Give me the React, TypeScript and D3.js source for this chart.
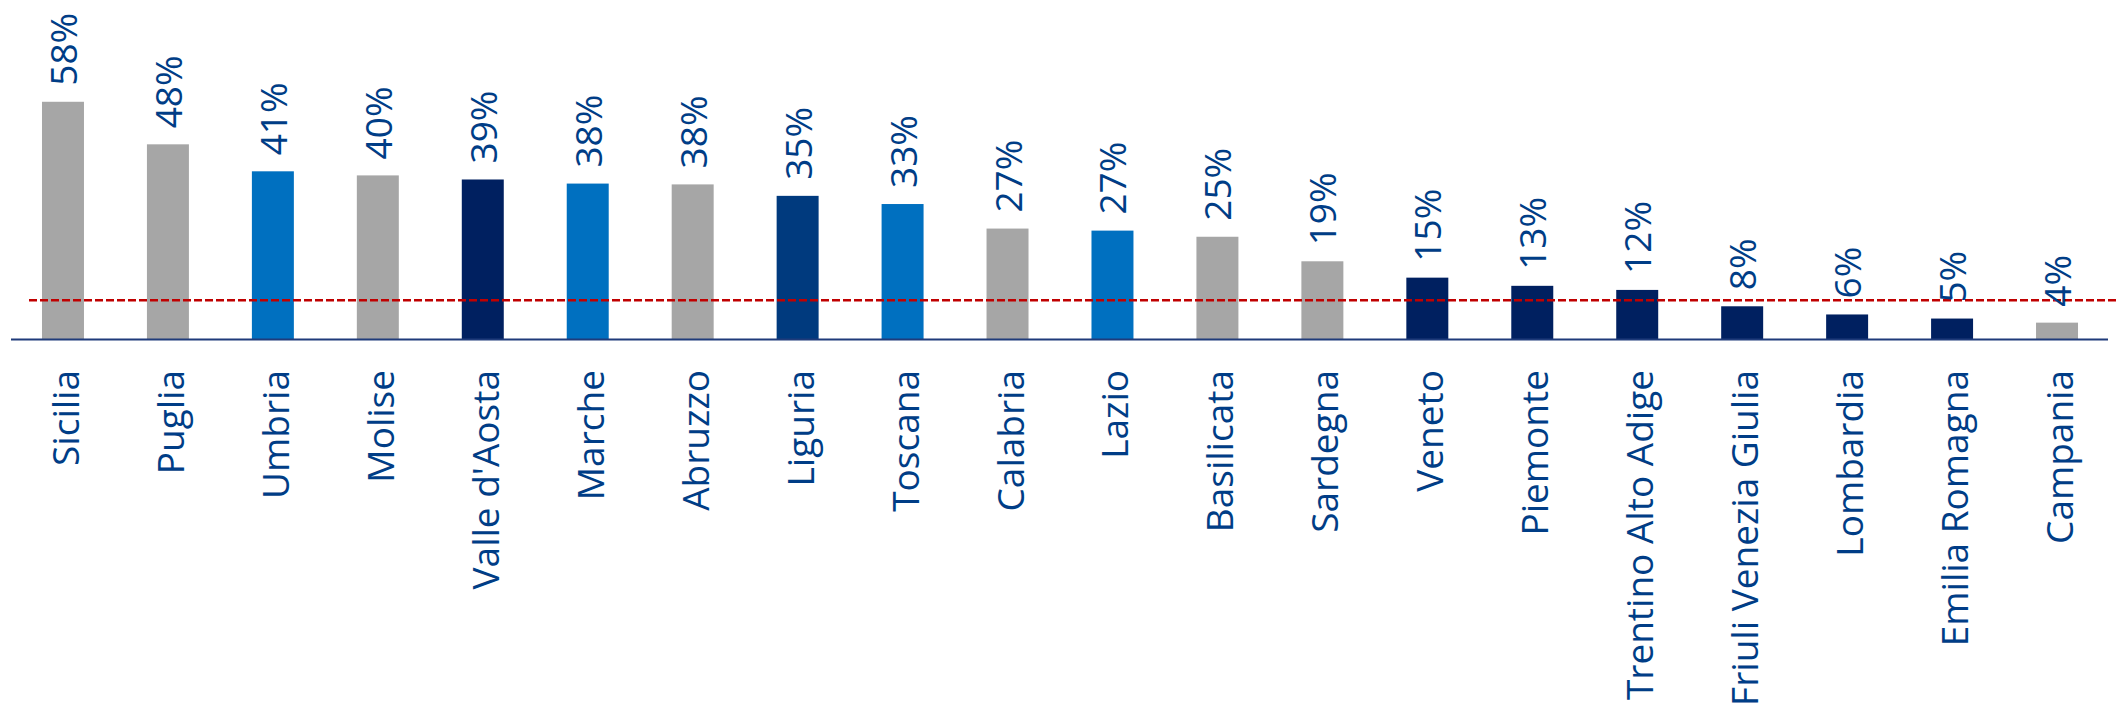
import React from "react";
import * as d3 from "d3";

const categories = [
  "Sicilia", "Puglia", "Umbria", "Molise", "Valle d'Aosta", "Marche", "Abruzzo",
  "Liguria", "Toscana", "Calabria", "Lazio", "Basilicata", "Sardegna", "Veneto",
  "Piemonte", "Trentino Alto Adige", "Friuli Venezia Giulia", "Lombardia",
  "Emilia Romagna", "Campania",
];
const values = [58, 47.6, 41, 40, 39, 38, 37.8, 35, 33, 27, 26.5, 25, 19, 15, 13, 12, 8, 6, 5, 4];
const groups = [
  "grey", "grey", "blue", "grey", "navy", "blue", "grey", "dark", "blue", "grey",
  "blue", "grey", "grey", "navy", "navy", "navy", "navy", "navy", "navy", "grey",
];
const referenceValue = 9.5;

const colorMap: Record<string, string> = {
  grey: "#A6A6A6",
  blue: "#0070C0",
  navy: "#002060",
  dark: "#003A7E",
};

const W = 2118;
const H = 714;
const TEXT = "#003D86";
const FONT = "'Open Sans', sans-serif";

export default function App() {
  const x = d3.scaleBand<string>()
    .domain(categories)
    .range([10.5, 2109.5])
    .paddingInner(0.6)
    .paddingOuter(0.3);
  const y = d3.scaleLinear().domain([0, 60]).range([339, 339 - 245.4]);
  const bw = x.bandwidth();

  return (
    <div style={{ position: "absolute", left: 0, top: 0 }}>
      <svg width={W} height={H} style={{ display: "block" }}>
        <rect width={W} height={H} fill="#fff" />
        {categories.map((c, i) => (
          <rect
            key={c}
            x={x(c)!}
            y={y(values[i])}
            width={bw}
            height={y(0) - y(values[i])}
            fill={colorMap[groups[i]]}
          />
        ))}
        <line
          x1={29}
          x2={W}
          y1={y(referenceValue)}
          y2={y(referenceValue)}
          stroke="#C00000"
          strokeWidth={2.5}
          strokeDasharray="8 3"
        />
        <line x1={11} x2={2108} y1={y(0) + 0.5} y2={y(0) + 0.5} stroke="#1F3B7A" strokeWidth={2} />
        {categories.map((c, i) => {
          const cx = x(c)! + bw / 2;
          const ty = y(values[i]) - 16;
          return (
            <text
              key={"v" + c}
              transform={`translate(${cx + 14},${ty}) rotate(-90)`}
              fill={TEXT}
              fontFamily={FONT}
              fontSize={37}
              textAnchor="start"
            >
              {d3.format(".0f")(values[i]) + "%"}
            </text>
          );
        })}
        {categories.map((c) => {
          const cx = x(c)! + bw / 2;
          return (
            <text
              key={"c" + c}
              transform={`translate(${cx + 16},370) rotate(-90)`}
              fill={TEXT}
              fontFamily={FONT}
              fontSize={37}
              textAnchor="end"
            >
              {c}
            </text>
          );
        })}
      </svg>
    </div>
  );
}
